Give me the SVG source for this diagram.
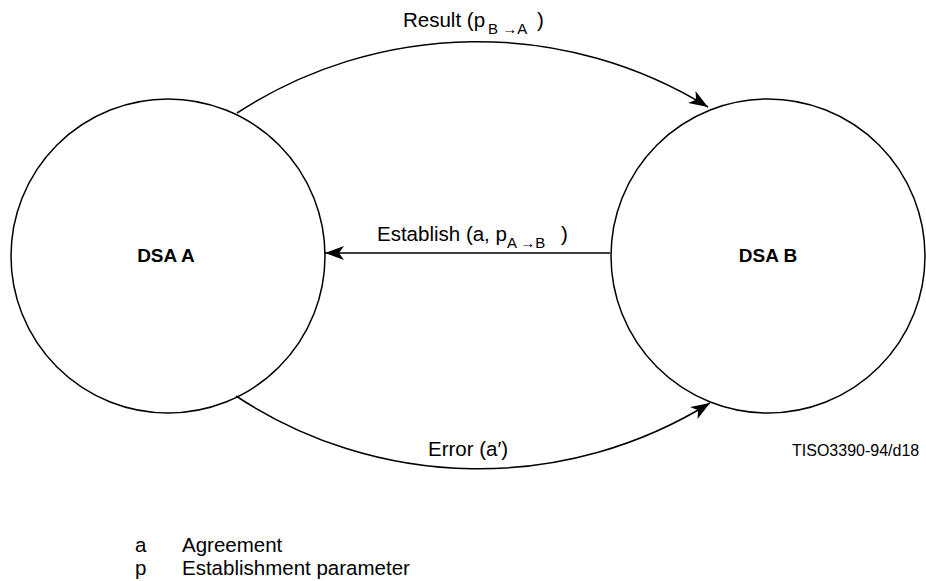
<svg xmlns="http://www.w3.org/2000/svg" width="926" height="581" viewBox="0 0 926 581">
<defs>
<style>
.t{font-family:"Liberation Sans",Arial,Helvetica,sans-serif;font-size:20.5px;fill:#000}
.s{font-family:"Liberation Sans",Arial,Helvetica,sans-serif;font-size:15px;fill:#000}
.b{font-family:"Liberation Sans",Arial,Helvetica,sans-serif;font-size:19px;font-weight:bold;fill:#000;text-anchor:middle}
.n{fill:#fff;stroke:#000;stroke-width:1.5}
.c{fill:none;stroke:#000;stroke-width:1.5}
</style>
<marker id="ah" markerUnits="userSpaceOnUse" markerWidth="24" markerHeight="16" refX="20" refY="7" orient="auto" viewBox="0 0 24 14">
<path d="M20,7 L1,0 L6,7 L1,14 Z" fill="#000"/>
</marker>
</defs>
<rect width="926" height="581" fill="#fff"/>
<g id="dsa-a">
<circle class="n" cx="168" cy="256" r="157"/>
<text class="b" x="166" y="262">DSA A</text>
</g>
<g id="dsa-b">
<circle class="n" cx="768" cy="256" r="157"/>
<text class="b" x="768" y="262">DSA B</text>
</g>
<g id="connectors">
<path class="c" d="M237,113 A440,440 0 0 1 708,107" marker-end="url(#ah)"/>
<path class="c" d="M610,253 L325,253" marker-end="url(#ah)"/>
<path class="c" d="M236,396 A440,440 0 0 0 710,403" marker-end="url(#ah)"/>
</g>
<g id="labels">
<text class="t" x="403" y="27">Result (p</text>
<text class="s" x="488" y="34">B →A</text>
<text class="t" x="537" y="27">)</text>
<text class="t" x="377" y="241">Establish (a, p</text>
<text class="s" x="507" y="248">A →B</text>
<text class="t" x="561" y="241">)</text>
<text class="t" x="428" y="456">Error (a′)</text>
<text class="t" x="792" y="456" style="font-size:16px">TISO3390-94/d18</text>
</g>
<g id="legend">
<text class="t" x="135" y="552">a</text>
<text class="t" x="182" y="552">Agreement</text>
<text class="t" x="135" y="575">p</text>
<text class="t" x="182" y="575">Establishment parameter</text>
</g>
</svg>
